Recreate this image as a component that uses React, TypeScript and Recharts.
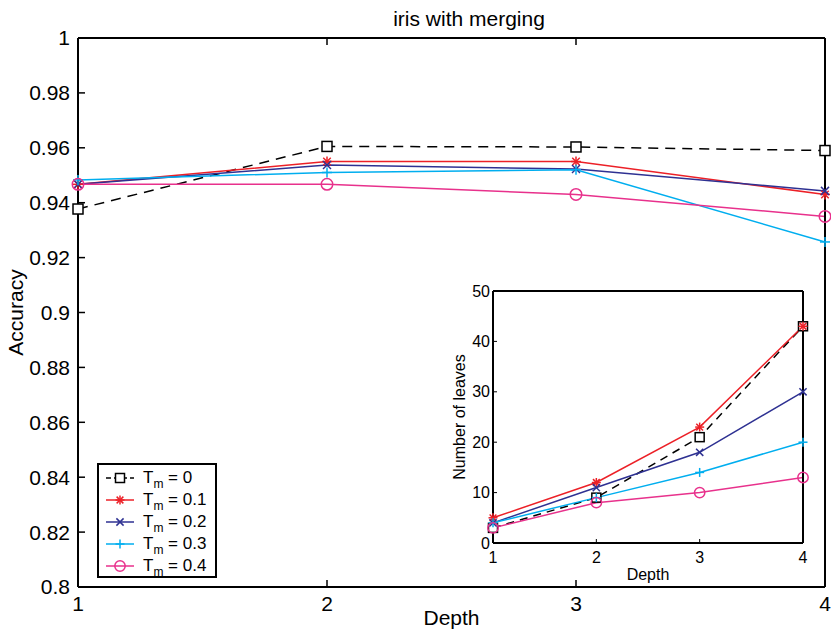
import React from 'react';
import { LineChart, Line, XAxis, YAxis, Legend, CartesianGrid } from 'recharts';

// depth of the tree (x axis for both charts)
const depths = [1, 2, 3, 4];

// accuracy per merging threshold T_m
const accT0 = [0.9377, 0.9605, 0.9603, 0.959];
const accT1 = [0.9467, 0.955, 0.955, 0.943];
const accT2 = [0.9467, 0.9537, 0.9523, 0.9443];
const accT3 = [0.9483, 0.951, 0.952, 0.9257];
const accT4 = [0.9467, 0.9467, 0.943, 0.935];

// number of leaves per merging threshold (inset)
const leavesT0 = [3, 9, 21, 43];
const leavesT1 = [5, 12, 23, 43];
const leavesT2 = [4, 11, 18, 30];
const leavesT3 = [4, 9, 14, 20];
const leavesT4 = [3, 8, 10, 13];

const thresholds = ['0', '0.1', '0.2', '0.3', '0.4'];
const accTicks = [0.8, 0.82, 0.84, 0.86, 0.88, 0.9, 0.92, 0.94, 0.96, 0.98, 1];
const leavesTicks = [0, 10, 20, 30, 40, 50];

const COLORS: Record<string, string> = {
  t0: '#000000',
  t1: '#ec2027',
  t2: '#2e3192',
  t3: '#00aeef',
  t4: '#e8318c',
};

const accData = depths.map((d, i) => ({
  depth: d,
  t0: accT0[i],
  t1: accT1[i],
  t2: accT2[i],
  t3: accT3[i],
  t4: accT4[i],
}));

const leavesData = depths.map((d, i) => ({
  depth: d,
  t0: leavesT0[i],
  t1: leavesT1[i],
  t2: leavesT2[i],
  t3: leavesT3[i],
  t4: leavesT4[i],
}));

const FONT = '"Liberation Sans", Arial, Helvetica, sans-serif';

// matlab style markers
const marker = (key: string, cx: number, cy: number, s: number) => {
  const c = COLORS[key];
  const w = 1.5;
  if (key === 't0') {
    return <rect x={cx - s} y={cy - s} width={2 * s} height={2 * s} fill="#fff" stroke={c} strokeWidth={w} />;
  }
  if (key === 't1') {
    const d = s * 0.75;
    return (
      <g stroke={c} strokeWidth={w}>
        <line x1={cx - s} y1={cy} x2={cx + s} y2={cy} />
        <line x1={cx} y1={cy - s} x2={cx} y2={cy + s} />
        <line x1={cx - d} y1={cy - d} x2={cx + d} y2={cy + d} />
        <line x1={cx - d} y1={cy + d} x2={cx + d} y2={cy - d} />
      </g>
    );
  }
  if (key === 't2') {
    const d = s * 0.8;
    return (
      <g stroke={c} strokeWidth={w}>
        <line x1={cx - d} y1={cy - d} x2={cx + d} y2={cy + d} />
        <line x1={cx - d} y1={cy + d} x2={cx + d} y2={cy - d} />
      </g>
    );
  }
  if (key === 't3') {
    return (
      <g stroke={c} strokeWidth={w}>
        <line x1={cx - s} y1={cy} x2={cx + s} y2={cy} />
        <line x1={cx} y1={cy - s} x2={cx} y2={cy + s} />
      </g>
    );
  }
  return <circle cx={cx} cy={cy} r={s * 1.15} fill="none" stroke={c} strokeWidth={w} />;
};

const makeDot = (key: string, s: number) => (props: any) => {
  const { cx, cy, index } = props;
  if (cx == null || cy == null) return <g key={`${key}-${index}`} />;
  return <g key={`${key}-${index}`}>{marker(key, cx, cy, s)}</g>;
};

const noTick = () => <g />;

const renderLegend = (props: any) => {
  const { payload } = props;
  return (
    <div
      style={{
        border: '2px solid #000',
        background: '#fff',
        padding: '2px 0',
        fontFamily: FONT,
        fontSize: 17,
        color: '#000',
        boxSizing: 'border-box',
        width: 120,
        height: 115,
      }}
    >
      {(payload || []).map((entry: any) => {
        const key = entry.dataKey as string;
        return (
          <div key={key} style={{ display: 'flex', alignItems: 'center', height: 22 }}>
            <svg width={44} height={20} style={{ flex: 'none' }}>
              <line
                x1={7}
                y1={10}
                x2={35}
                y2={10}
                stroke={COLORS[key]}
                strokeWidth={1.5}
                strokeDasharray={key === 't0' ? '5 3' : undefined}
              />
              {marker(key, 21, 10, 4.5)}
            </svg>
            <span style={{ whiteSpace: 'nowrap', lineHeight: '18px' }}>
              T<sub style={{ fontSize: 12, verticalAlign: -5, lineHeight: 0 }}>m</sub> = {entry.value}
            </span>
          </div>
        );
      })}
    </div>
  );
};

const keys = ['t0', 't1', 't2', 't3', 't4'];

const App: React.FC = () => {
  return (
    <div
      style={{
        position: 'absolute',
        left: 0,
        top: 0,
        width: 831,
        height: 630,
        background: '#fff',
        fontFamily: FONT,
      }}
    >
      <div
        style={{
          position: 'absolute',
          left: 369,
          top: 8,
          width: 200,
          textAlign: 'center',
          fontSize: 21,
          lineHeight: '21px',
          color: '#000',
        }}
      >
        iris with merging
      </div>

      <LineChart width={831} height={630} data={accData} margin={{ top: 37, right: 5, bottom: 0, left: 0 }}>
        <XAxis
          dataKey="depth"
          type="number"
          domain={[1, 4]}
          ticks={depths}
          interval={0}
          height={43}
          tickSize={-7}
          tickMargin={16}
          axisLine={{ stroke: '#000', strokeWidth: 2 }}
          tickLine={{ stroke: '#000', strokeWidth: 1.5 }}
          tick={{ fill: '#000', fontSize: 21, fontFamily: FONT }}
          label={{ value: 'Depth', position: 'insideBottom', offset: 5, fill: '#000', fontSize: 21, fontFamily: FONT }}
        />
        <XAxis
          xAxisId="top"
          orientation="top"
          dataKey="depth"
          type="number"
          domain={[1, 4]}
          ticks={depths}
          interval={0}
          height={1}
          tickSize={-7}
          axisLine={{ stroke: '#000', strokeWidth: 2 }}
          tickLine={{ stroke: '#000', strokeWidth: 1.5 }}
          tick={noTick}
        />
        <YAxis
          type="number"
          domain={[0.8, 1]}
          ticks={accTicks}
          interval={0}
          width={78}
          tickSize={-7}
          tickMargin={15}
          tickFormatter={(v: number) => String(v)}
          axisLine={{ stroke: '#000', strokeWidth: 2 }}
          tickLine={{ stroke: '#000', strokeWidth: 1.5 }}
          tick={{ fill: '#000', fontSize: 21, fontFamily: FONT }}
          label={{
            value: 'Accuracy',
            angle: -90,
            position: 'insideLeft',
            offset: 16,
            fill: '#000',
            fontSize: 21,
            fontFamily: FONT,
            style: { textAnchor: 'middle' },
          }}
        />
        <YAxis
          yAxisId="right"
          orientation="right"
          type="number"
          domain={[0.8, 1]}
          ticks={accTicks}
          interval={0}
          width={1}
          tickSize={-7}
          axisLine={{ stroke: '#000', strokeWidth: 2 }}
          tickLine={{ stroke: '#000', strokeWidth: 1.5 }}
          tick={noTick}
        />
        {keys.map((k, i) => (
          <Line
            key={k}
            dataKey={k}
            name={thresholds[i]}
            stroke={COLORS[k]}
            strokeWidth={1.5}
            strokeDasharray={k === 't0' ? '10 7' : undefined}
            dot={makeDot(k, 5)}
            activeDot={false}
            isAnimationActive={false}
          />
        ))}
        <Legend
          layout="vertical"
          align="center"
          verticalAlign="middle"
          content={renderLegend}
          wrapperStyle={{ left: 97, top: 463, width: 120, height: 115 }}
        />
      </LineChart>

      <div style={{ position: 'absolute', left: 440, top: 280 }}>
        <LineChart width={380} height={320} data={leavesData} margin={{ top: 10, right: 16, bottom: 0, left: 0 }}>
          <CartesianGrid horizontal={false} vertical={false} fill="#fff" />
          <XAxis
            dataKey="depth"
            type="number"
            domain={[1, 4]}
            ticks={depths}
            interval={0}
            height={57}
            tickSize={-4}
            tickMargin={13}
            axisLine={{ stroke: '#000', strokeWidth: 2 }}
            tickLine={{ stroke: '#000', strokeWidth: 1 }}
            tick={{ fill: '#000', fontSize: 16, fontFamily: FONT }}
            label={{ value: 'Depth', position: 'insideBottom', offset: 20, fill: '#000', fontSize: 16, fontFamily: FONT }}
          />
          <XAxis
            xAxisId="top"
            orientation="top"
            dataKey="depth"
            type="number"
            domain={[1, 4]}
            height={1}
            axisLine={{ stroke: '#000', strokeWidth: 2 }}
            tickLine={false}
            tick={noTick}
          />
          <YAxis
            type="number"
            domain={[0, 50]}
            ticks={leavesTicks}
            interval={0}
            width={53}
            tickSize={-4}
            tickMargin={7}
            axisLine={{ stroke: '#000', strokeWidth: 2 }}
            tickLine={{ stroke: '#000', strokeWidth: 1 }}
            tick={{ fill: '#000', fontSize: 16, fontFamily: FONT }}
            label={{
              value: 'Number of leaves',
              angle: -90,
              position: 'insideLeft',
              offset: 19,
              fill: '#000',
              fontSize: 16,
              fontFamily: FONT,
              style: { textAnchor: 'middle' },
            }}
          />
          <YAxis
            yAxisId="right"
            orientation="right"
            type="number"
            domain={[0, 50]}
            width={1}
            axisLine={{ stroke: '#000', strokeWidth: 2 }}
            tickLine={false}
            tick={noTick}
          />
          {keys.map((k, i) => (
            <Line
              key={k}
              dataKey={k}
              name={thresholds[i]}
              stroke={COLORS[k]}
              strokeWidth={1.5}
              strokeDasharray={k === 't0' ? '8 6' : undefined}
              dot={makeDot(k, 4.5)}
              activeDot={false}
              isAnimationActive={false}
            />
          ))}
        </LineChart>
      </div>
    </div>
  );
};

export default App;
